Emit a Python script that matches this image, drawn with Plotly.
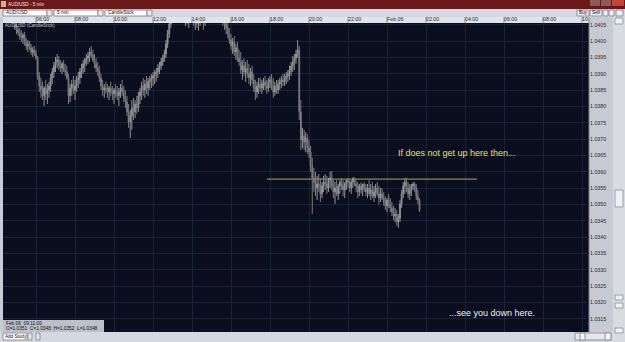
import pandas as pd
import plotly.graph_objects as go

# ---------------- data ----------------
bar_start = "2013-02-05 04:55"
bar_freq = "5min"

opens = [
1.04050,1.04041,1.04035,1.04026,1.04016,1.04010,1.04019,1.03998,1.03986,1.03992,
1.03980,1.03967,1.03974,1.03961,1.03949,1.03894,1.03863,1.03851,1.03833,1.03857,
1.03839,1.03851,1.03863,1.03888,1.03906,1.03925,1.03937,1.03943,1.03925,1.03918,
1.03931,1.03912,1.03906,1.03888,1.03833,1.03857,1.03869,1.03851,1.03863,1.03882,
1.03888,1.03906,1.03918,1.03931,1.03943,1.03949,1.03955,1.03967,1.03958,1.03943,
1.03931,1.03918,1.03906,1.03888,1.03863,1.03851,1.03857,1.03851,1.03845,1.03857,
1.03845,1.03839,1.03851,1.03845,1.03833,1.03845,1.03857,1.03845,1.03827,1.03814,
1.03784,1.03753,1.03771,1.03796,1.03784,1.03808,1.03796,1.03833,1.03845,1.03863,
1.03851,1.03869,1.03857,1.03876,1.03882,1.03888,1.03894,1.03900,1.03906,1.03918,
1.03925,1.03937,1.03949,1.03961,1.03992,1.04022,1.04053,1.04078,1.04096,1.04114,
1.04120,1.04127,1.04120,1.04108,1.04096,1.04071,1.04084,1.04065,1.04078,1.04090,
1.04078,1.04059,1.04071,1.04053,1.04065,1.04084,1.04071,1.04059,1.04078,1.04090,
1.04102,1.04108,1.04114,1.04120,1.04114,1.04102,1.04108,1.04096,1.04084,1.04065,
1.04053,1.04041,1.04022,1.04004,1.03986,1.03998,1.03967,1.03980,1.03949,1.03937,
1.03912,1.03925,1.03906,1.03918,1.03900,1.03888,1.03906,1.03882,1.03857,1.03845,
1.03863,1.03869,1.03857,1.03869,1.03876,1.03863,1.03857,1.03876,1.03882,1.03863,
1.03845,1.03863,1.03851,1.03869,1.03876,1.03882,1.03876,1.03888,1.03894,1.03900,
1.03912,1.03925,1.03937,1.03949,1.03961,1.03974,1.03784,1.03698,1.03710,1.03692,
1.03704,1.03673,1.03661,1.03618,1.03582,1.03569,1.03551,1.03563,1.03557,1.03533,
1.03557,1.03569,1.03563,1.03551,1.03575,1.03582,1.03557,1.03539,1.03551,1.03533,
1.03557,1.03569,1.03557,1.03545,1.03563,1.03575,1.03569,1.03551,1.03569,1.03582,
1.03563,1.03557,1.03539,1.03557,1.03545,1.03563,1.03551,1.03539,1.03551,1.03533,
1.03545,1.03526,1.03539,1.03551,1.03533,1.03520,1.03533,1.03520,1.03508,1.03496,
1.03514,1.03502,1.03490,1.03477,1.03465,1.03471,1.03447,1.03459,1.03502,1.03533,
1.03557,1.03569,1.03551,1.03533,1.03545,1.03557,1.03563,1.03551,1.03526,1.03514]

highs = [
1.04059,1.04053,1.04047,1.04041,1.04035,1.04026,1.04029,1.04010,1.04004,1.04001,
1.03992,1.03983,1.03986,1.03974,1.03955,1.03906,1.03888,1.03876,1.03863,1.03882,
1.03869,1.03876,1.03900,1.03918,1.03937,1.03952,1.03961,1.03955,1.03943,1.03937,
1.03943,1.03931,1.03925,1.03900,1.03869,1.03882,1.03894,1.03882,1.03894,1.03906,
1.03918,1.03931,1.03943,1.03949,1.03961,1.03967,1.03980,1.03986,1.03974,1.03961,
1.03949,1.03937,1.03925,1.03900,1.03882,1.03869,1.03876,1.03869,1.03863,1.03876,
1.03863,1.03857,1.03869,1.03863,1.03857,1.03869,1.03882,1.03863,1.03851,1.03833,
1.03808,1.03790,1.03820,1.03827,1.03820,1.03833,1.03845,1.03857,1.03876,1.03888,
1.03882,1.03894,1.03888,1.03894,1.03900,1.03906,1.03912,1.03918,1.03931,1.03937,
1.03949,1.03958,1.03974,1.04004,1.04035,1.04065,1.04090,1.04111,1.04127,1.04139,
1.04145,1.04145,1.04139,1.04127,1.04114,1.04102,1.04108,1.04096,1.04102,1.04114,
1.04102,1.04090,1.04096,1.04084,1.04096,1.04108,1.04096,1.04090,1.04108,1.04120,
1.04127,1.04133,1.04139,1.04139,1.04133,1.04127,1.04127,1.04114,1.04102,1.04084,
1.04071,1.04059,1.04041,1.04022,1.04010,1.04016,1.03992,1.03998,1.03974,1.03967,
1.03943,1.03949,1.03937,1.03943,1.03931,1.03918,1.03925,1.03900,1.03882,1.03876,
1.03888,1.03888,1.03882,1.03888,1.03894,1.03882,1.03888,1.03894,1.03900,1.03888,
1.03876,1.03882,1.03882,1.03888,1.03894,1.03900,1.03900,1.03906,1.03912,1.03925,
1.03937,1.03955,1.03961,1.03974,1.04004,1.03986,1.03820,1.03735,1.03729,1.03722,
1.03716,1.03698,1.03680,1.03643,1.03612,1.03600,1.03588,1.03594,1.03582,1.03569,
1.03588,1.03594,1.03588,1.03582,1.03600,1.03603,1.03575,1.03569,1.03575,1.03563,
1.03575,1.03582,1.03575,1.03569,1.03575,1.03582,1.03575,1.03575,1.03582,1.03582,
1.03575,1.03569,1.03563,1.03569,1.03563,1.03569,1.03563,1.03563,1.03575,1.03563,
1.03569,1.03557,1.03563,1.03569,1.03557,1.03551,1.03551,1.03539,1.03526,1.03520,
1.03533,1.03520,1.03508,1.03496,1.03490,1.03484,1.03471,1.03514,1.03545,1.03569,
1.03582,1.03582,1.03569,1.03563,1.03563,1.03569,1.03569,1.03563,1.03545,1.03520]

lows = [
1.04035,1.04022,1.04016,1.04004,1.03998,1.03992,1.03986,1.03974,1.03967,1.03974,
1.03958,1.03952,1.03955,1.03943,1.03882,1.03845,1.03827,1.03820,1.03802,1.03820,
1.03808,1.03827,1.03845,1.03869,1.03888,1.03906,1.03918,1.03912,1.03906,1.03900,
1.03906,1.03894,1.03882,1.03808,1.03814,1.03833,1.03839,1.03820,1.03845,1.03857,
1.03869,1.03888,1.03900,1.03906,1.03925,1.03931,1.03937,1.03949,1.03937,1.03918,
1.03906,1.03894,1.03876,1.03851,1.03833,1.03827,1.03839,1.03827,1.03820,1.03833,
1.03820,1.03808,1.03827,1.03820,1.03802,1.03827,1.03833,1.03814,1.03796,1.03771,
1.03735,1.03704,1.03729,1.03759,1.03765,1.03778,1.03784,1.03808,1.03820,1.03833,
1.03827,1.03839,1.03833,1.03851,1.03857,1.03863,1.03869,1.03876,1.03888,1.03900,
1.03912,1.03925,1.03937,1.03949,1.03980,1.04010,1.04041,1.04065,1.04084,1.04096,
1.04102,1.04108,1.04096,1.04084,1.04059,1.04047,1.04053,1.04041,1.04059,1.04065,
1.04047,1.04035,1.04041,1.04032,1.04047,1.04059,1.04035,1.04047,1.04065,1.04071,
1.04084,1.04090,1.04096,1.04102,1.04090,1.04084,1.04078,1.04071,1.04047,1.04035,
1.04022,1.04010,1.03992,1.03974,1.03961,1.03955,1.03943,1.03937,1.03925,1.03900,
1.03882,1.03894,1.03876,1.03888,1.03869,1.03863,1.03869,1.03845,1.03820,1.03827,
1.03839,1.03845,1.03839,1.03851,1.03851,1.03839,1.03845,1.03857,1.03851,1.03827,
1.03833,1.03839,1.03839,1.03851,1.03857,1.03863,1.03863,1.03869,1.03876,1.03882,
1.03894,1.03906,1.03912,1.03931,1.03949,1.03759,1.03667,1.03673,1.03667,1.03661,
1.03655,1.03643,1.03600,1.03471,1.03539,1.03526,1.03514,1.03539,1.03508,1.03520,
1.03539,1.03545,1.03533,1.03539,1.03551,1.03545,1.03520,1.03502,1.03526,1.03514,
1.03533,1.03545,1.03526,1.03520,1.03545,1.03551,1.03539,1.03533,1.03551,1.03557,
1.03539,1.03520,1.03526,1.03533,1.03526,1.03539,1.03526,1.03520,1.03526,1.03514,
1.03520,1.03508,1.03520,1.03526,1.03502,1.03508,1.03514,1.03496,1.03484,1.03477,
1.03490,1.03477,1.03465,1.03453,1.03447,1.03435,1.03429,1.03447,1.03490,1.03520,
1.03533,1.03539,1.03520,1.03514,1.03526,1.03545,1.03539,1.03514,1.03502,1.03477]

closes = [
1.04041,1.04035,1.04026,1.04016,1.04010,1.04019,1.03998,1.03986,1.03992,1.03980,
1.03967,1.03974,1.03961,1.03949,1.03894,1.03863,1.03851,1.03833,1.03857,1.03839,
1.03851,1.03863,1.03888,1.03906,1.03925,1.03937,1.03943,1.03925,1.03918,1.03931,
1.03912,1.03906,1.03888,1.03833,1.03857,1.03869,1.03851,1.03863,1.03882,1.03888,
1.03906,1.03918,1.03931,1.03943,1.03949,1.03955,1.03967,1.03958,1.03943,1.03931,
1.03918,1.03906,1.03888,1.03863,1.03851,1.03857,1.03851,1.03845,1.03857,1.03845,
1.03839,1.03851,1.03845,1.03833,1.03845,1.03857,1.03845,1.03827,1.03814,1.03784,
1.03753,1.03771,1.03796,1.03784,1.03808,1.03796,1.03833,1.03845,1.03863,1.03851,
1.03869,1.03857,1.03876,1.03882,1.03888,1.03894,1.03900,1.03906,1.03918,1.03925,
1.03937,1.03949,1.03961,1.03992,1.04022,1.04053,1.04078,1.04096,1.04114,1.04120,
1.04127,1.04120,1.04108,1.04096,1.04071,1.04084,1.04065,1.04078,1.04090,1.04078,
1.04059,1.04071,1.04053,1.04065,1.04084,1.04071,1.04059,1.04078,1.04090,1.04102,
1.04108,1.04114,1.04120,1.04114,1.04102,1.04108,1.04096,1.04084,1.04065,1.04053,
1.04041,1.04022,1.04004,1.03986,1.03998,1.03967,1.03980,1.03949,1.03937,1.03912,
1.03925,1.03906,1.03918,1.03900,1.03888,1.03906,1.03882,1.03857,1.03845,1.03863,
1.03869,1.03857,1.03869,1.03876,1.03863,1.03857,1.03876,1.03882,1.03863,1.03845,
1.03863,1.03851,1.03869,1.03876,1.03882,1.03876,1.03888,1.03894,1.03900,1.03912,
1.03925,1.03937,1.03949,1.03961,1.03974,1.03784,1.03698,1.03710,1.03692,1.03704,
1.03673,1.03661,1.03618,1.03582,1.03569,1.03551,1.03563,1.03557,1.03533,1.03557,
1.03569,1.03563,1.03551,1.03575,1.03582,1.03557,1.03539,1.03551,1.03533,1.03557,
1.03569,1.03557,1.03545,1.03563,1.03575,1.03569,1.03551,1.03569,1.03582,1.03563,
1.03557,1.03539,1.03557,1.03545,1.03563,1.03551,1.03539,1.03551,1.03533,1.03545,
1.03526,1.03539,1.03551,1.03533,1.03520,1.03533,1.03520,1.03508,1.03496,1.03514,
1.03502,1.03490,1.03477,1.03465,1.03471,1.03447,1.03459,1.03502,1.03533,1.03557,
1.03569,1.03551,1.03533,1.03545,1.03557,1.03563,1.03551,1.03526,1.03514,1.03484]

assert len(opens) == len(highs) == len(lows) == len(closes)

tick_times = ["2013-02-05 06:00", "2013-02-05 08:00", "2013-02-05 10:00", "2013-02-05 12:00",
              "2013-02-05 14:00", "2013-02-05 16:00", "2013-02-05 18:00", "2013-02-05 20:00",
              "2013-02-05 22:00", "2013-02-06 00:00", "2013-02-06 02:00", "2013-02-06 04:00",
              "2013-02-06 06:00", "2013-02-06 08:00", "2013-02-06 10:00"]
tick_labels = ["06:00", "08:00", "10:00", "12:00", "14:00", "16:00", "18:00", "20:00",
               "22:00", "Feb 06", "02:00", "04:00", "06:00", "08:00", "10"]

x_range = ["2013-02-05 04:18:28", "2013-02-06 10:21:33"]
y_range = [1.03110, 1.04056]

level_price = 1.03578
level_start = "2013-02-05 17:50:46"
level_end = "2013-02-06 04:36:55"

note_top = "If does not get up here then..."
note_top_x = "2013-02-06 00:27:42"
note_top_y = 1.03658
note_bottom = "...see you down here."
note_bottom_x = "2013-02-06 03:04:37"
note_bottom_y = 1.03168

info_line1 = "Feb 06  09:11:00"
info_line2 = "O=1.0351  C=1.0348  H=1.0352  L=1.0348"

times = pd.date_range(start=bar_start, periods=len(closes), freq=bar_freq)

# ---------------- layout geometry (page pixels) ----------------
W, H = 625, 342
ML, MR, MT, MB = 3, 36, 23, 10
PW = W - ML - MR
PH = H - MT - MB
FONT = "Liberation Sans"


def px(x):
    return (x - ML) / PW


def py(y):
    return (H - MB - y) / PH


shapes = []
annotations = []


def rect(x0, y0, x1, y1, fill, line=None, layer="below"):
    shapes.append(dict(type="rect", xref="paper", yref="paper",
                       x0=px(x0), x1=px(x1), y0=py(y1), y1=py(y0),
                       fillcolor=fill, layer=layer,
                       line=dict(width=1 if line else 0, color=line or fill)))


def label(x, y, s, size, color, xanchor="left"):
    annotations.append(dict(xref="paper", yref="paper", x=px(x), y=py(y), text=s,
                            showarrow=False, xanchor=xanchor, yanchor="middle",
                            borderpad=0, font=dict(size=size, color=color, family=FONT)))


# title bar
rect(0, 0, 625, 9, "#6a1a1a")
rect(1, 1, 6, 7, "#c9b38a")
label(7, 4.5, "AUD/USD - 5 min", 4.6, "#f2e6e6")
rect(590, 0, 600, 6, "#8d5a5a")
rect(601, 0, 611, 6, "#8d5a5a")
rect(612, 0, 624, 6, "#c2453c")
# toolbar
rect(0, 9, 625, 17, "#d4d8e0")
for (bx0, bx1, txt) in [(3, 47, "AUD/USD"), (54, 98, "5 min"), (105, 147, "CandleStick")]:
    rect(bx0, 10, bx1, 16, "#ffffff", "#8c919b")
    rect(bx1, 10, bx1 + 5, 16, "#e6e8ec", "#8c919b")
    label(bx0 + 2, 13, txt, 4.8, "#111111")
rect(577, 10, 589, 16, "#eceef1", "#8c919b")
label(583, 13, "Buy", 4.8, "#111111", xanchor="center")
rect(590, 10, 602, 16, "#eceef1", "#8c919b")
label(596, 13, "Sell", 4.8, "#111111", xanchor="center")
rect(603, 10, 608, 16, "#eceef1", "#8c919b")
rect(609, 10, 614, 16, "#eceef1", "#8c919b")
rect(616, 10, 623, 16, "#eceef1", "#8c919b")
# time row
rect(0, 17, 589, 23, "#e0e3e8")
# left border
rect(0, 17, 3, 342, "#c8ccd4")
# price panel + scrollbar
rect(589, 17, 613, 332, "#c6cad2")
shapes.append(dict(type="line", xref="paper", yref="paper", x0=px(589), x1=px(589),
                   y0=py(332), y1=py(17), line=dict(color="#7c818b", width=1), layer="below"))
rect(613, 17, 625, 342, "#d8dce2")
rect(615, 18, 623, 24, "#eef0f3", "#9aa0aa")
rect(615, 190, 623, 207, "#eef0f3", "#9aa0aa")
rect(615, 295, 623, 300, "#eef0f3", "#9aa0aa")
rect(615, 303, 623, 308, "#eef0f3", "#9aa0aa")
rect(615, 328, 623, 333, "#eef0f3", "#9aa0aa")
# bottom bar
rect(0, 332, 613, 342, "#d4d8e0")
rect(3, 333, 27, 340, "#ffffff", "#8c919b")
label(4, 336.5, "Add Study", 4.6, "#111111")
rect(28, 333, 32, 340, "#e6e8ec", "#8c919b")
rect(36, 333, 40, 340, "#e6e8ec", "#8c919b")
rect(575, 333, 611, 340, "#e6e8ec", "#8c919b")
rect(580, 333, 585, 340, "#f4f5f7", "#8c919b")
rect(605, 333, 611, 340, "#f4f5f7", "#8c919b")
# info box inside plot
rect(3, 320, 104, 332, "#bcc0c8", layer="above")
label(5, 323.3, info_line1, 4.8, "#111111")
label(5, 328.6, info_line2, 4.8, "#111111")
# chart label
label(3.5, 25.5, "AUD/USD (CandleStick)", 4.6, "#c4c8d0")

# separators in the time row at each tick
for t in tick_times:
    shapes.append(dict(type="line", xref="x", yref="paper", x0=t, x1=t,
                       y0=py(23), y1=py(17), line=dict(color="#8c919b", width=1), layer="below"))

# level line
shapes.append(dict(type="line", xref="x", yref="y", x0=level_start, x1=level_end,
                   y0=level_price, y1=level_price,
                   line=dict(color="#8a8a48", width=1.3), layer="between"))

annotations.append(dict(xref="x", yref="y", x=note_top_x, y=note_top_y, text=note_top,
                        showarrow=False, xanchor="left", yanchor="middle",
                        font=dict(size=9, color="#e2e25e", family=FONT)))
annotations.append(dict(xref="x", yref="y", x=note_bottom_x, y=note_bottom_y, text=note_bottom,
                        showarrow=False, xanchor="left", yanchor="middle",
                        font=dict(size=9, color="#f2f2f2", family=FONT)))

fig = go.Figure(go.Candlestick(
    x=times, open=opens, high=highs, low=lows, close=closes,
    increasing=dict(line=dict(color="#949494", width=1), fillcolor="#949494"),
    decreasing=dict(line=dict(color="#7c7c7c", width=1), fillcolor="#7c7c7c"),
    whiskerwidth=0, hoverinfo="skip", showlegend=False))

fig.update_layout(
    width=W, height=H,
    margin=dict(l=ML, r=MR, t=MT, b=MB, pad=0),
    paper_bgcolor="#d4d8e0",
    plot_bgcolor="#0a0e1f",
    showlegend=False,
    hovermode=False,
    shapes=shapes,
    annotations=annotations,
    font=dict(family=FONT),
    xaxis=dict(
        type="date", range=x_range, side="top",
        tickmode="array", tickvals=tick_times, ticktext=tick_labels,
        ticklabelposition="outside right",
        tickfont=dict(size=5.3, color="#2a2a2a", family=FONT),
        ticks="", showgrid=True, gridcolor="#1a2238", gridwidth=1,
        zeroline=False, showline=False, rangeslider=dict(visible=False),
        fixedrange=True,
    ),
    yaxis=dict(
        range=y_range, side="right",
        tickmode="linear", tick0=1.0315, dtick=0.0005, tickformat=".4f",
        tickfont=dict(size=5.3, color="#2a2a2a", family=FONT),
        ticks="", showgrid=True, gridcolor="#1a2238", gridwidth=1,
        zeroline=False, showline=False, fixedrange=True,
    ),
)

fig.write_html("out.html")
